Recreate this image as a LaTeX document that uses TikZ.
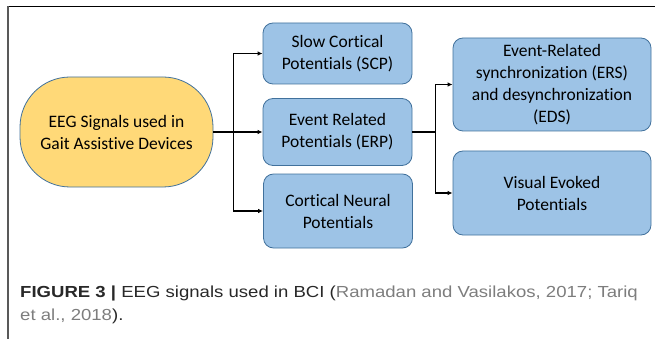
\documentclass[tikz,border=0pt]{standalone}
\usepackage{fontspec}
\setmainfont{Carlito}[Ligatures=NoCommon]
\newfontfamily\capfont{Liberation Sans}
\usetikzlibrary{arrows.meta}

\definecolor{gaitfill}{RGB}{255,217,120}
\definecolor{eegfill}{RGB}{157,195,230}
\definecolor{eegline}{RGB}{65,113,156}
\definecolor{captext}{RGB}{40,40,40}
\definecolor{citegray}{RGB}{125,125,125}

\tikzset{
    sigbox/.style={draw=eegline, fill=eegfill, rounded corners=10pt, line width=0.8pt,
        minimum width=149pt, align=center, font=\fontsize{17.5}{22}\selectfont},
    link/.style={line width=1.2pt, -{Latex[length=5pt,width=4.5pt]}},
    captionline/.style={anchor=base west, inner sep=0pt, xscale=1.16, transform shape,
        font=\capfont\fontsize{16}{21}\selectfont, text=captext}
}

\begin{document}
\begin{tikzpicture}[x=1pt, y=-1pt]
    \useasboundingbox (0,0) rectangle (655,339);

    % frame edges
    \draw [black, line width=1pt] (7,7) -- (655,7);
    \draw [gray!70!black, line width=2pt] (8,6.5) -- (8,339);

    \node at (116.5,132) [draw=eegline, fill=gaitfill, rounded corners=50pt, line width=0.8pt,
        minimum width=193pt, minimum height=110pt, align=center,
        font=\fontsize{17.5}{22}\selectfont] (EEG) {EEG Signals used in\\Gait Assistive Devices};

    \node at (337.5,53.5) [sigbox, minimum height=61pt] (SCP) {Slow Cortical\\Potentials (SCP)};
    \node at (337.5,132) [sigbox, minimum height=67pt] (ERP) {Event Related\\Potentials (ERP)};
    \node at (338,211) [sigbox, minimum height=74pt] (CNP) {Cortical Neural\\Potentials};

    \node at (552,84.5) [sigbox, minimum width=198pt, minimum height=93pt] (ERS)
        {Event-Related\\synchronization (ERS)\\and desynchronization\\(EDS)};
    \node at (552,193) [sigbox, minimum width=198pt, minimum height=84pt] (VEP)
        {Visual Evoked\\Potentials};

    \draw [line width=1.2pt] (EEG.east) -- ++(20,0) coordinate (fork1);
    \draw [line width=1.2pt] (ERP.east) -- ++(23,0) coordinate (fork2);

    \path
        (fork1) edge [link, to path={|- (\tikztotarget)}] (SCP.west)
        (fork1) edge [link] (ERP.west)
        (fork1) edge [link, to path={|- (\tikztotarget)}] (CNP.west)
        (fork2) edge [link, to path={|- (\tikztotarget)}] (ERS.west)
        (fork2) edge [link, to path={|- (\tikztotarget)}] (VEP.west);

    % caption, two lines
    \node at (20,297) [captionline] (capA)
        {\textbf{FIGURE 3 |} EEG signals used in BCI ({\color{citegray}Ramadan and Vasilakos, 2017; Tariq}};
    \node at (20,320) [captionline] (capB)
        {{\color{citegray}et al., 2018}).};
\end{tikzpicture}
\end{document}
